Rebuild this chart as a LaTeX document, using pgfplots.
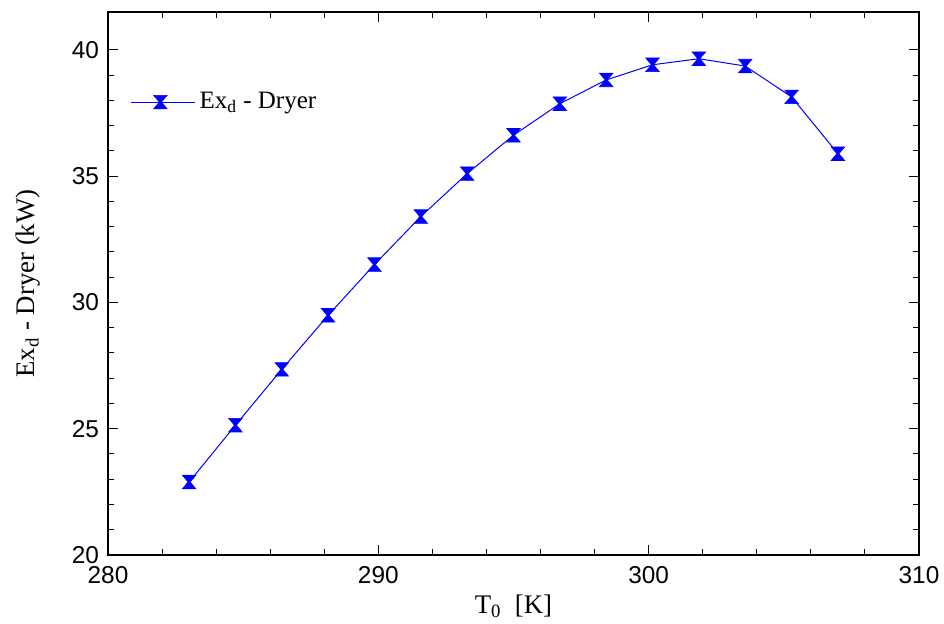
\documentclass[border=0pt]{standalone}
\usepackage{fontspec}
\setmainfont{Liberation Serif}
\setsansfont{Liberation Sans}
\usepackage{pgfplots}
\pgfplotsset{compat=1.18}
\pgfdeclareplotmark{hourglass}{%
  \pgfpathmoveto{\pgfqpoint{-\pgfplotmarksize}{\pgfplotmarksize}}%
  \pgfpathlineto{\pgfqpoint{\pgfplotmarksize}{\pgfplotmarksize}}%
  \pgfpathlineto{\pgfqpoint{0.15\pgfplotmarksize}{0pt}}%
  \pgfpathlineto{\pgfqpoint{\pgfplotmarksize}{-\pgfplotmarksize}}%
  \pgfpathlineto{\pgfqpoint{-\pgfplotmarksize}{-\pgfplotmarksize}}%
  \pgfpathlineto{\pgfqpoint{-0.15\pgfplotmarksize}{0pt}}%
  \pgfpathclose
  \pgfusepathqfillstroke}
\begin{document}
\begin{tikzpicture}
\begin{axis}[
  name=ax,
  scale only axis,
  width=405.5pt, height=271.5pt,
  xmin=280, xmax=310, ymin=20, ymax=41.5,
  xtick={280,290,300,310}, ytick={20,25,30,35,40},
  minor x tick num=4, minor y tick num=4,
  tick align=inside,
  major tick length=5pt, minor tick length=3pt,
  tick style={black, line width=0.5pt},
  axis line style={black, line width=0.8pt},
  /pgf/number format/assume math mode=true,
  tick label style={font=\sffamily\fontsize{12.2}{13}\selectfont},
  xticklabel style={yshift=-2pt},
  yticklabel style={xshift=-1pt},
  label style={font=\fontsize{13.4}{15}\selectfont},
  xlabel={T\textsubscript{0}\ \ [K]},
  ylabel={Ex\textsubscript{d} - Dryer (kW)},
  xlabel style={yshift=1pt},
  ylabel style={yshift=9pt},
  legend style={draw=none, fill=none, at={(0.027,0.86)}, anchor=north west,
    font=\fontsize{12.5}{14}\selectfont, inner sep=0pt, row sep=0pt},
  legend cell align=left,
  legend image code/.code={\draw[mark repeat=2,mark phase=2] plot coordinates {(0cm,0cm) (0.52cm,0cm) (1.13cm,0cm)};},
]
\addplot[color=blue, line width=0.5pt, mark=hourglass, mark size=3.4pt,
  mark options={fill=blue, draw=blue, line width=0.3pt}]
coordinates {
(283.000,22.89)
(284.714,25.14)
(286.429,27.35)
(288.143,29.49)
(289.857,31.50)
(291.571,33.40)
(293.286,35.10)
(295.000,36.62)
(296.714,37.87)
(298.429,38.81)
(300.143,39.41)
(301.857,39.65)
(303.571,39.36)
(305.286,38.14)
(307.000,35.89)
};
\addlegendentry{Ex\textsubscript{d} - Dryer}
\end{axis}
\pgfresetboundingbox
\path ([shift={(-54pt,-34pt)}]ax.south west) rectangle ([shift={(418pt,277.5pt)}]ax.south west);
\end{tikzpicture}
\end{document}
